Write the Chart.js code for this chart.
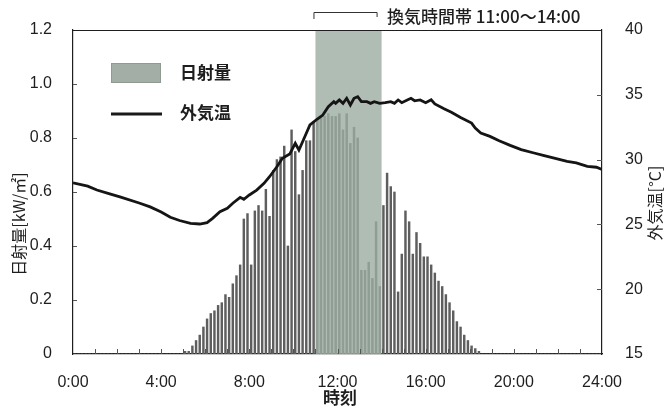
<!DOCTYPE html>
<html>
<head>
<meta charset="utf-8">
<script src="https://cdn.jsdelivr.net/npm/chart.js@4.4.1/dist/chart.umd.min.js"></script>
<style>
  html, body { margin: 0; padding: 0; background: #ffffff; }
  #wrap { position: relative; width: 665px; height: 412px; }
</style>
</head>
<body>
<div id="wrap"><canvas id="chart" width="665" height="412"></canvas></div>
<script>
// Solar radiation, 10-minute averages from 0:00 (kW/m2), one value per interval
const solarStepMinutes = 10;
const solarValues = [
  0, 0, 0, 0, 0, 0, 0, 0, 0, 0, 0, 0,                      // 0:00 - 1:50
  0, 0, 0, 0, 0, 0, 0, 0, 0, 0, 0, 0,                      // 2:00 - 3:50
  0, 0, 0, 0, 0, 0, 0.01, 0.01, 0.03, 0.05, 0.07, 0.10,    // 4:00 - 5:50
  0.13, 0.15, 0.16, 0.18, 0.19, 0.22, 0.21, 0.26, 0.29, 0.33, 0.50, 0.52, // 6:00 - 7:50
  0.33, 0.53, 0.55, 0.53, 0.61, 0.51, 0.68, 0.72, 0.73, 0.77, 0.40, 0.83, // 8:00 - 9:50
  0.75, 0.59, 0.68, 0.79, 0.79, 0.86, 0.87, 0.88, 0.88, 0.89, 0.88, 0.88, // 10:00 - 11:50
  0.89, 0.83, 0.89, 0.78, 0.84, 0.80, 0.31, 0.31, 0.34, 0.28, 0.49, 0.25, // 12:00 - 13:50
  0.55, 0.67, 0.62, 0.60, 0.23, 0.37, 0.53, 0.49, 0.37, 0.45, 0.41, 0.36, // 14:00 - 15:50
  0.36, 0.33, 0.30, 0.27, 0.25, 0.22, 0.19, 0.16, 0.12, 0.10, 0.07, 0.05, // 16:00 - 17:50
  0.03, 0.02, 0.01, 0, 0, 0, 0, 0, 0, 0, 0, 0,             // 18:00 - 19:50
  0, 0, 0, 0, 0, 0, 0, 0, 0, 0, 0, 0,                      // 20:00 - 21:50
  0, 0, 0, 0, 0, 0, 0, 0, 0, 0, 0, 0                       // 22:00 - 23:50
];

// Outdoor air temperature (deg C) at the logged times
const tempTimes = [
  '0:00', '0:40', '1:05', '1:40', '2:10', '3:00', '3:30', '4:00', '4:25', '4:50',
  '5:20', '5:45', '6:05', '6:20', '6:40', '7:00', '7:15', '7:35', '7:45', '8:00',
  '8:20', '8:40', '8:55', '9:15', '9:30', '9:50', '10:05', '10:15', '10:25', '10:45',
  '11:05', '11:20', '11:35', '11:50', '11:55', '12:05', '12:15', '12:25', '12:35', '12:45',
  '12:55', '13:05', '13:20', '13:30', '13:40', '13:55', '14:10', '14:25', '14:35', '14:45',
  '14:55', '15:10', '15:20', '15:30', '15:45', '16:00', '16:15', '16:25', '16:50', '17:10',
  '17:35', '18:05', '18:15', '18:30', '18:55', '19:20', '19:50', '20:20', '20:55', '21:20',
  '21:50', '22:25', '22:50', '23:20', '23:45', '24:00'
];
const tempValues = [
  28.20, 27.95, 27.65, 27.35, 27.10, 26.65, 26.35, 25.95, 25.55, 25.30,
  25.08, 25.03, 25.13, 25.47, 25.98, 26.24, 26.63, 27.09, 26.94, 27.27,
  27.65, 28.17, 28.68, 29.45, 30.10, 30.43, 31.26, 30.74, 31.38, 32.67,
  33.13, 33.44, 34.08, 34.47, 34.34, 34.60, 34.34, 34.73, 34.21, 34.73,
  34.85, 34.47, 34.47, 34.34, 34.47, 34.34, 34.39, 34.47, 34.34, 34.60,
  34.39, 34.60, 34.73, 34.54, 34.60, 34.39, 34.62, 34.30, 33.92, 33.66,
  33.25, 32.82, 32.43, 32.05, 31.79, 31.46, 31.10, 30.77, 30.51, 30.33,
  30.12, 29.87, 29.74, 29.48, 29.41, 29.23
];

// Axis tick labels
const timeTickLabels = ['0:00', '4:00', '8:00', '12:00', '16:00', '20:00', '24:00'];
const solarTickLabels = ['0', '0.2', '0.4', '0.6', '0.8', '1.0', '1.2'];
const tempTickLabels = ['15', '20', '25', '30', '35', '40'];

// Ventilation period
const ventStart = '11:00';
const ventEnd = '14:00';
const ventLabel = '換気時間帯 11:00〜14:00';

// Text
const solarName = '日射量';
const tempName = '外気温';
const solarAxisTitle = '日射量[kW/㎡]';
const tempAxisTitle = '外気温[°C]';
const timeAxisTitle = '時刻';

function toMinutes(hm) {
  const [h, m] = hm.split(':').map(Number);
  return h * 60 + m;
}

const solarPoints = solarValues.map((v, i) => ({ x: i * solarStepMinutes + solarStepMinutes / 2, y: v }));
const tempPoints = tempTimes.map((t, i) => ({ x: toMinutes(t), y: tempValues[i] }));

const tickFont = { family: "'Liberation Sans', Arial, sans-serif", size: 16 };
const cjkFont = "'Noto Sans CJK JP', 'Noto Sans', sans-serif";
const inkColor = '#1e1e1e';
const shadeColor = 'rgba(156, 172, 162, 0.8)';

const decorations = {
  id: 'decorations',
  afterDatasetDraw(chart, args) {
    if (args.index !== 0) return;
    // ventilation band over the radiation bars
    const { ctx, chartArea } = chart;
    const xs = chart.scales.x;
    const x0 = xs.getPixelForValue(toMinutes(ventStart));
    const x1 = xs.getPixelForValue(toMinutes(ventEnd));
    ctx.save();
    ctx.fillStyle = shadeColor;
    ctx.fillRect(x0, chartArea.top, x1 - x0, chartArea.bottom - chartArea.top);
    ctx.restore();
  },
  afterDraw(chart) {
    const { ctx, chartArea } = chart;
    const xs = chart.scales.x, ys = chart.scales.y, yt = chart.scales.y1;
    ctx.save();

    // frame top edge
    ctx.strokeStyle = inkColor;
    ctx.lineWidth = 1.2;
    ctx.beginPath();
    ctx.moveTo(chartArea.left, chartArea.top + 0.5);
    ctx.lineTo(chartArea.right, chartArea.top + 0.5);
    ctx.stroke();

    // inward tick marks
    ctx.lineWidth = 1;
    ctx.strokeStyle = '#555';
    ctx.beginPath();
    for (let h = 1; h < 24; h++) {
      const x = Math.round(xs.getPixelForValue(h * 60)) + 0.5;
      ctx.moveTo(x, chartArea.bottom);
      ctx.lineTo(x, chartArea.bottom - 5);
    }
    for (let i = 1; i < solarTickLabels.length - 1; i++) {
      const y = Math.round(ys.getPixelForValue(Number(solarTickLabels[i]))) + 0.5;
      ctx.moveTo(chartArea.left, y);
      ctx.lineTo(chartArea.left + 4, y);
    }
    for (let i = 1; i < tempTickLabels.length - 1; i++) {
      const y = Math.round(yt.getPixelForValue(Number(tempTickLabels[i]))) + 0.5;
      ctx.moveTo(chartArea.right, y);
      ctx.lineTo(chartArea.right - 5, y);
    }
    ctx.stroke();

    // legend
    ctx.fillStyle = '#a2aea6';
    ctx.fillRect(111, 63, 50, 20);
    ctx.strokeStyle = '#8e9a92';
    ctx.lineWidth = 1;
    ctx.strokeRect(111.5, 63.5, 49, 19);
    ctx.strokeStyle = '#1a1a1a';
    ctx.lineWidth = 2.8;
    ctx.beginPath();
    ctx.moveTo(111, 114);
    ctx.lineTo(162, 114);
    ctx.stroke();
    ctx.fillStyle = inkColor;
    ctx.font = `bold 17px ${cjkFont}`;
    ctx.textBaseline = 'middle';
    ctx.textAlign = 'left';
    ctx.fillText(solarName, 180, 73);
    ctx.fillText(tempName, 180, 113);

    // ventilation bracket and label
    const bx0 = xs.getPixelForValue(toMinutes(ventStart)) - 2;
    const bx1 = xs.getPixelForValue(toMinutes(ventEnd)) - 5;
    ctx.strokeStyle = '#333';
    ctx.lineWidth = 1;
    ctx.beginPath();
    ctx.moveTo(bx0 + 0.5, 19);
    ctx.lineTo(bx0 + 0.5, 12.5);
    ctx.lineTo(bx1 + 0.5, 12.5);
    ctx.lineTo(bx1 + 0.5, 17);
    ctx.stroke();
    ctx.font = `500 17px ${cjkFont}`;
    ctx.fillStyle = inkColor;
    ctx.fillText(ventLabel, 387, 17);

    // axis titles
    ctx.font = `16px ${cjkFont}`;
    ctx.textAlign = 'center';
    ctx.save();
    ctx.translate(19, 224);
    ctx.rotate(-Math.PI / 2);
    ctx.fillText(solarAxisTitle, 0, 0);
    ctx.restore();
    ctx.save();
    ctx.translate(655, 203);
    ctx.rotate(-Math.PI / 2);
    ctx.font = `16px ${cjkFont}`;
    ctx.fillText(tempAxisTitle, 0, 0);
    ctx.restore();
    ctx.font = `bold 17px ${cjkFont}`;
    ctx.fillText(timeAxisTitle, 340, 398);

    ctx.restore();
  }
};

new Chart(document.getElementById('chart'), {
  type: 'bar',
  data: {
    datasets: [
      {
        type: 'bar',
        label: solarName,
        data: solarPoints,
        xAxisID: 'x',
        yAxisID: 'y',
        backgroundColor: '#5e5e5e',
        borderWidth: 0,
        barThickness: 1.8,
        order: 2
      },
      {
        type: 'line',
        label: tempName,
        data: tempPoints,
        xAxisID: 'x',
        yAxisID: 'y1',
        borderColor: '#151515',
        borderWidth: 2.8,
        pointRadius: 0,
        tension: 0,
        fill: false,
        order: 1
      }
    ]
  },
  options: {
    responsive: false,
    devicePixelRatio: 1,
    animation: false,
    layout: { padding: { top: 30, left: 0, right: 0, bottom: 0 } },
    plugins: { legend: { display: false }, tooltip: { enabled: false } },
    scales: {
      x: {
        type: 'linear',
        position: 'bottom',
        min: 0,
        max: 1440,
        offset: false,
        grid: { display: false, offset: false },
        border: { display: true, color: inkColor, width: 1.2 },
        ticks: {
          stepSize: 240,
          autoSkip: false,
          maxRotation: 0,
          padding: 11,
          color: inkColor,
          font: tickFont,
          callback: (v) => timeTickLabels[Math.round(v / 240)] ?? ''
        },
        afterFit: (s) => { s.height = 58; }
      },
      y: {
        position: 'left',
        min: 0,
        max: 1.2,
        grid: { display: false },
        border: { display: true, color: inkColor, width: 1.2 },
        ticks: {
          stepSize: 0.2,
          padding: 13,
          color: inkColor,
          font: tickFont,
          callback: (v) => solarTickLabels[Math.round(v / 0.2)] ?? ''
        },
        afterFit: (s) => { s.width = 73; }
      },
      y1: {
        position: 'right',
        min: 15,
        max: 40,
        grid: { display: false },
        border: { display: true, color: inkColor, width: 1.2 },
        ticks: {
          stepSize: 5,
          padding: 15,
          color: inkColor,
          font: tickFont,
          callback: (v) => tempTickLabels[Math.round((v - 15) / 5)] ?? ''
        },
        afterFit: (s) => { s.width = 63; }
      }
    }
  },
  plugins: [decorations]
});
</script>
</body>
</html>
